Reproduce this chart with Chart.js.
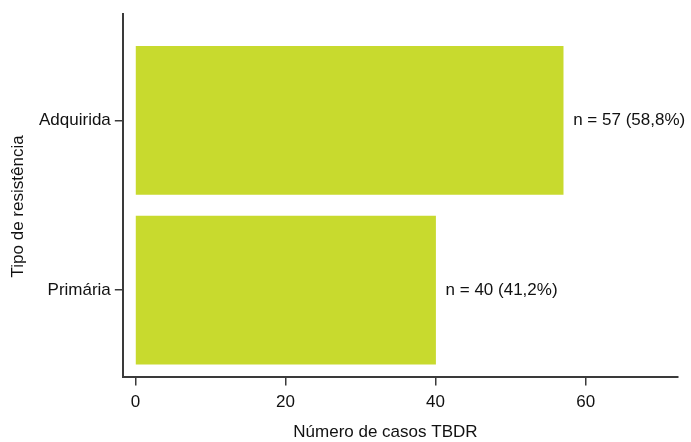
<!DOCTYPE html>
<html>
<head>
<meta charset="utf-8">
<script src="https://cdn.jsdelivr.net/npm/chart.js"></script>
<style>
  html, body { margin: 0; padding: 0; background: #ffffff; }
  #wrap { width: 691px; height: 442px; }
</style>
</head>
<body>
<div id="wrap"><canvas id="tbdrChart"></canvas></div>
<script>
// data
const categories = ['Adquirida', 'Primária'];
const casos = [57, 40];
const percentuais = ['58,8', '41,2'];
const xTicks = [0, 20, 40, 60];
const xTitle = 'Número de casos TBDR';
const yTitle = 'Tipo de resistência';

const axisColor = '#3a3a3a';
const barColor = '#c8da2e';
const font = { family: "'Liberation Sans', Arial, sans-serif", size: 17 };

// categories on a linear index axis so the axis line can run past the bars
const points = casos.map((v, i) => ({ x: v, y: categories.length - 1 - i }));

// value labels to the right of each bar + axis titles (slightly off-centre in the original)
const extraText = {
  id: 'extraText',
  afterDatasetsDraw(chart) {
    const ctx = chart.ctx;
    const area = chart.chartArea;
    const meta = chart.getDatasetMeta(0);
    ctx.save();
    ctx.font = font.size + 'px ' + font.family;
    ctx.fillStyle = '#111';
    ctx.textBaseline = 'middle';
    meta.data.forEach((bar, i) => {
      ctx.fillText('n = ' + casos[i] + ' (' + percentuais[i] + '%)', bar.x + 10, bar.y);
    });

    ctx.textAlign = 'center';
    ctx.fillText(xTitle, (area.left + area.right) / 2 - 15, area.bottom + 56);

    ctx.translate(18, (area.top + area.bottom) / 2 + 11);
    ctx.rotate(-Math.PI / 2);
    ctx.fillText(yTitle, 0, 0);
    ctx.restore();
  }
};

new Chart(document.getElementById('tbdrChart'), {
  type: 'bar',
  data: {
    datasets: [{
      data: points,
      backgroundColor: barColor,
      borderWidth: 0,
      barThickness: 148
    }]
  },
  options: {
    indexAxis: 'y',
    responsive: true,
    maintainAspectRatio: false,
    animation: false,
    layout: { padding: { top: 12, right: 13, left: 35, bottom: 22 } },
    plugins: {
      legend: { display: false },
      tooltip: { enabled: false }
    },
    scales: {
      x: {
        type: 'linear',
        min: -1.67,
        max: 72.3,
        afterBuildTicks: (scale) => { scale.ticks = xTicks.map(v => ({ value: v })); },
        border: { display: true, color: axisColor, width: 2 },
        grid: { display: true, drawOnChartArea: false, drawTicks: true, tickLength: 9, color: axisColor, lineWidth: 1.5 },
        ticks: { color: '#111', font: font, padding: 7 }
      },
      y: {
        type: 'linear',
        offset: false,
        min: -0.51,
        max: 1.626,
        afterBuildTicks: (scale) => { scale.ticks = categories.map((c, i) => ({ value: categories.length - 1 - i })); },
        border: { display: true, color: axisColor, width: 2 },
        grid: { display: true, offset: false, drawOnChartArea: false, drawTicks: true, tickLength: 8, color: axisColor, lineWidth: 1.5 },
        ticks: {
          color: '#111',
          font: font,
          padding: 4,
          callback: (v) => categories[categories.length - 1 - v]
        }
      }
    }
  },
  plugins: [extraText]
});
</script>
</body>
</html>
